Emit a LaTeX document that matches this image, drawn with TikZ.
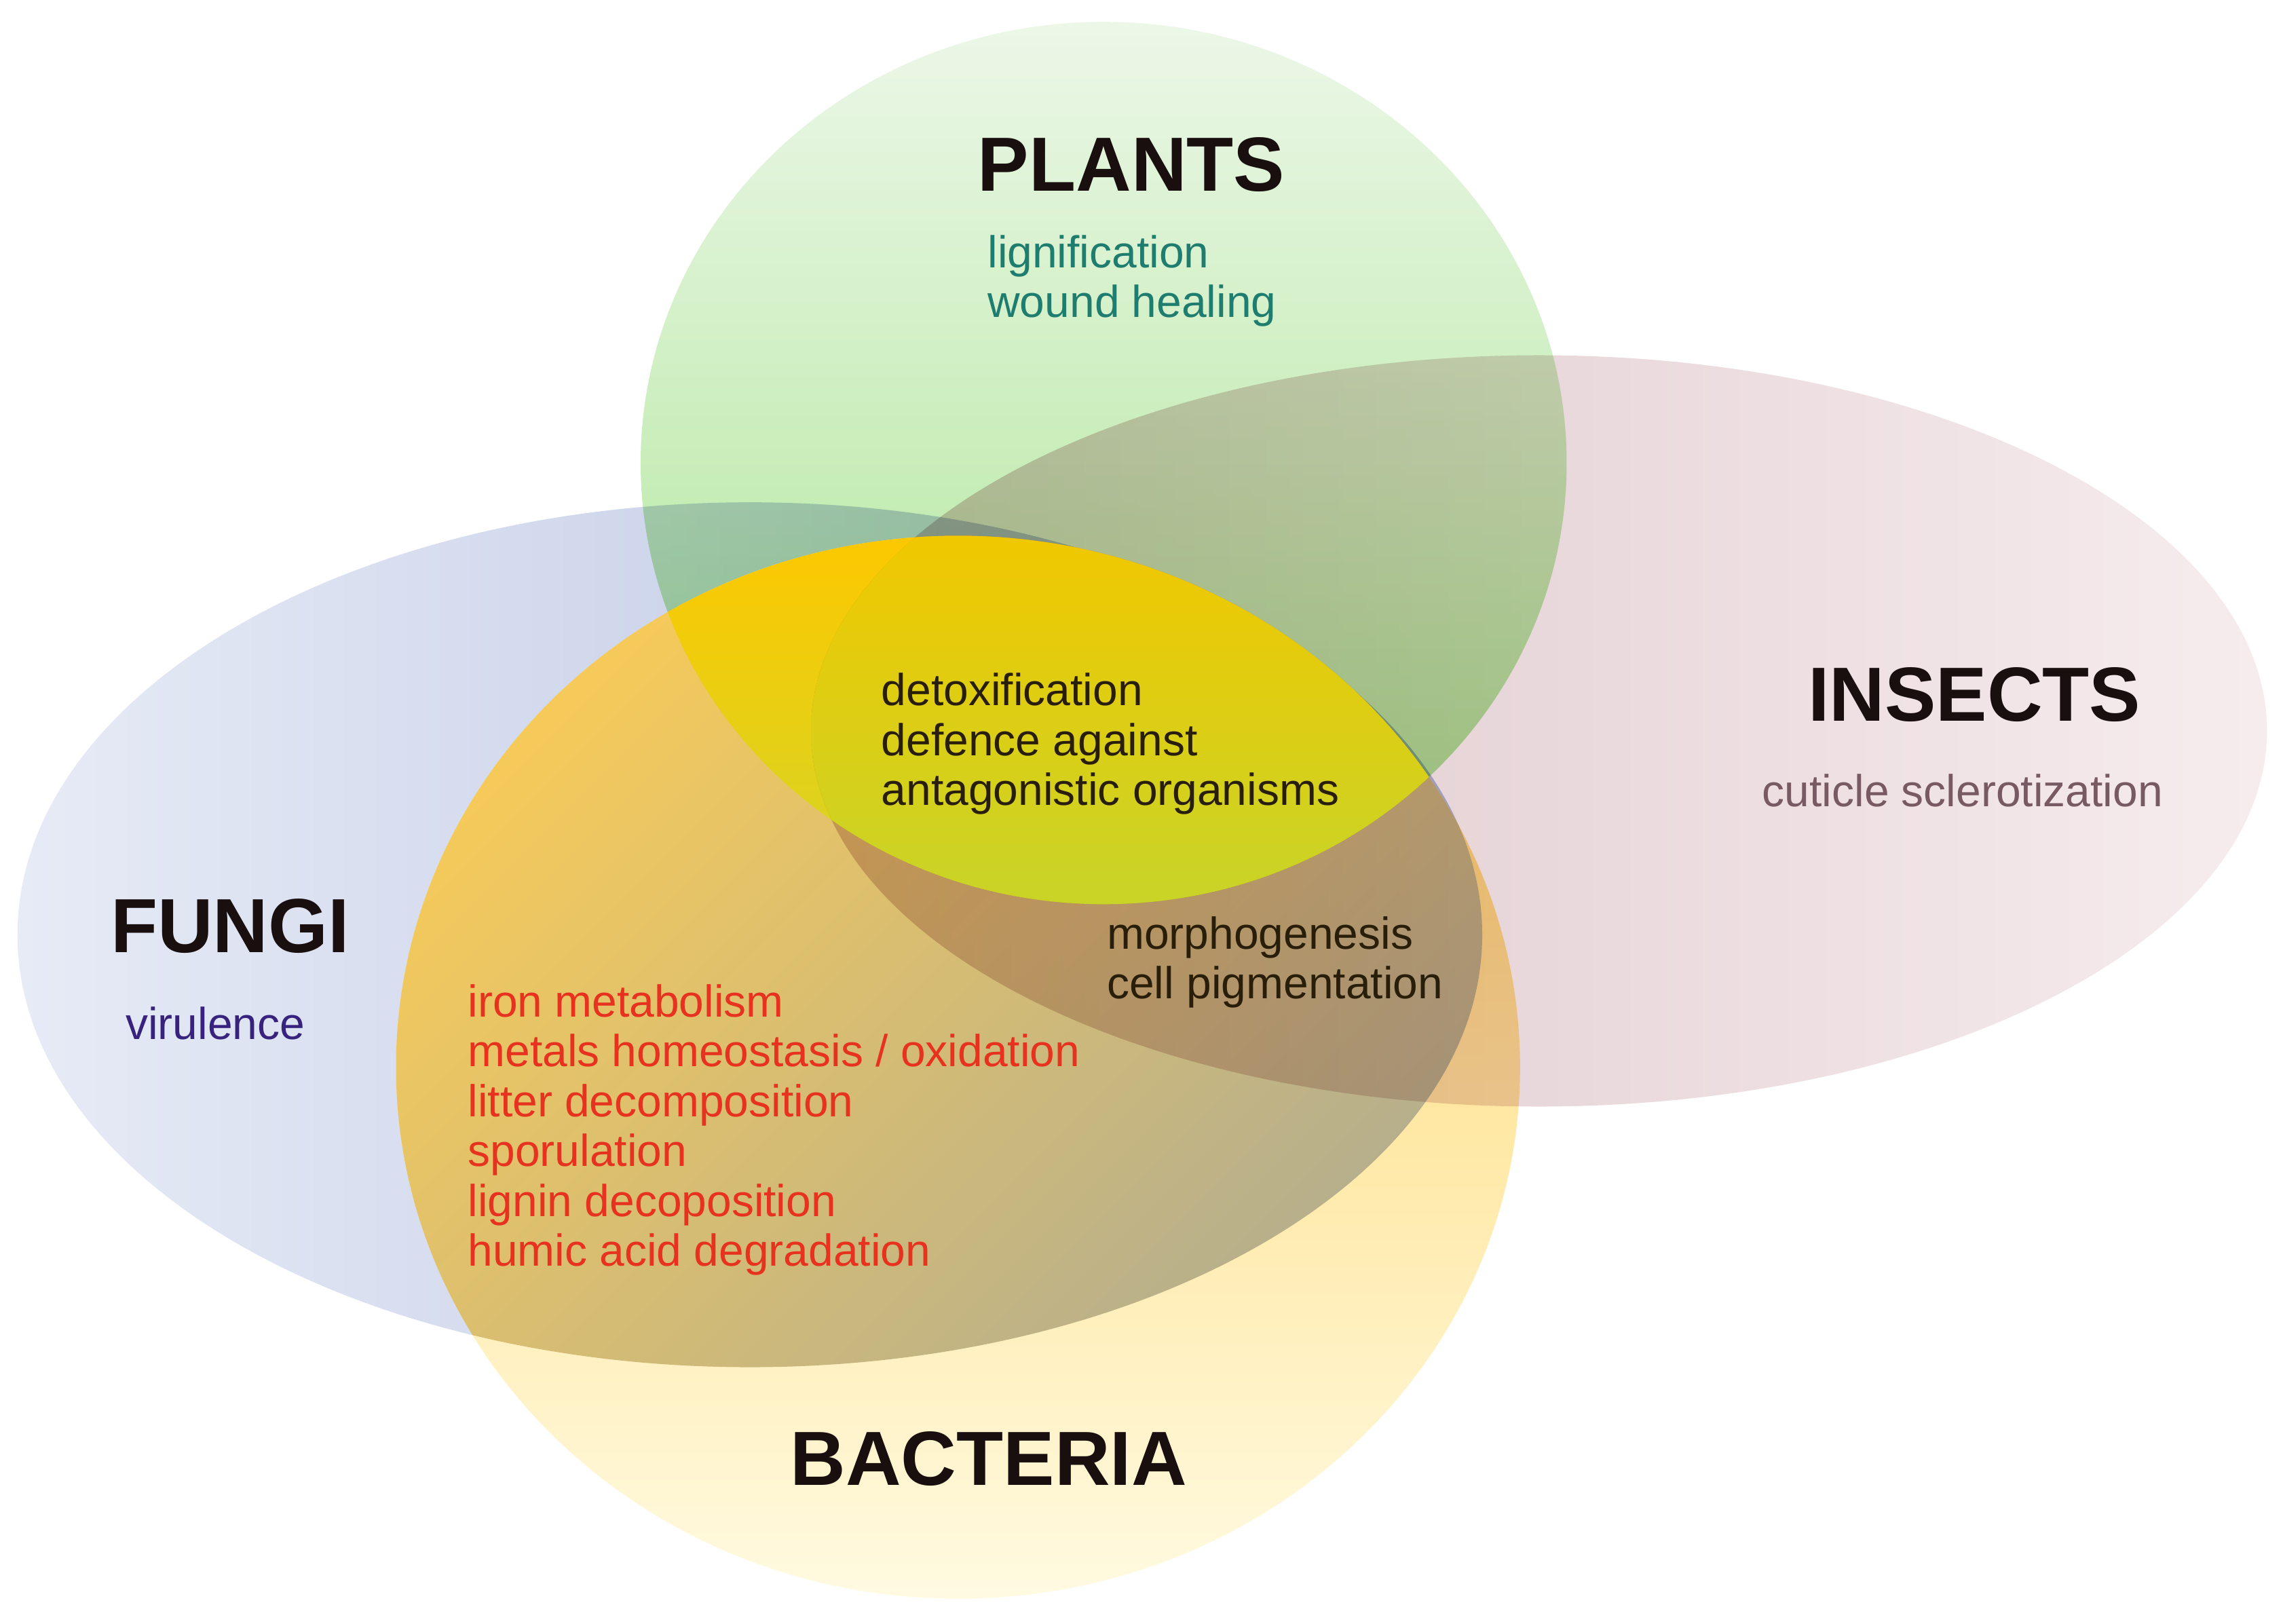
\documentclass[tikz,border=0pt]{standalone}
\usepackage{fontspec}
\setmainfont{Liberation Sans}
\usepackage{tikz}

\definecolor{fungiL}{RGB}{231,235,246}
\definecolor{fungiM}{RGB}{188,199,228}
\definecolor{fungiR}{RGB}{176,188,222}
\definecolor{plantsT}{RGB}{236,247,232}
\definecolor{plantsM}{RGB}{205,238,190}
\definecolor{plantsB}{RGB}{165,228,140}
\definecolor{insectsL}{RGB}{220,196,200}
\definecolor{insectsR}{RGB}{246,236,238}
\definecolor{bactT}{RGB}{255,210,90}
\definecolor{bactM}{RGB}{255,233,155}
\definecolor{bactB}{RGB}{255,250,225}
\definecolor{goldT}{RGB}{246,202,90}
\definecolor{goldM}{RGB}{215,197,132}
\definecolor{goldB}{RGB}{170,170,150}
\definecolor{lensT}{RGB}{252,200,0}
\definecolor{lensB}{RGB}{212,214,40}
\definecolor{limeT}{RGB}{240,200,0}
\definecolor{limeB}{RGB}{200,212,40}
\definecolor{headtext}{RGB}{25,15,15}
\definecolor{planttext}{RGB}{30,125,110}
\definecolor{insecttext}{RGB}{120,90,100}
\definecolor{fungitext}{RGB}{55,35,125}
\definecolor{sharedtext}{RGB}{40,30,10}
\definecolor{soiltext}{RGB}{230,50,30}

\def\plantsshape{(758,318) ellipse [x radius=318, y radius=303]}
\def\insectsshape{(1057,502) ellipse [x radius=500, y radius=258]}
\def\fungishape{(515,642) ellipse [x radius=503, y radius=297]}
\def\bactshape{(658,733) ellipse [x radius=386, y radius=365]}

\begin{document}
\begin{tikzpicture}[x=0.02cm, y=-0.02cm,
        head/.style={font=\fontsize{30}{36}\selectfont\bfseries, text=headtext, inner sep=0pt},
        note/.style={font=\fontsize{17.5}{19.5}\selectfont, align=left, anchor=west, inner sep=0pt}]
    \useasboundingbox (0,0) rectangle (1568,1115);

    % the four groups and their overlaps
    \shade[left color=fungiL, middle color=fungiM, right color=fungiR] \fungishape;
    \begin{scope}[blend mode=multiply]
        \shade[top color=plantsT, middle color=plantsM, bottom color=plantsB] \plantsshape;
    \end{scope}
    \shade[top color=bactT, middle color=bactM, bottom color=bactB] \bactshape;
    \begin{scope}
        \clip \fungishape;
        \shade[top color=goldT, middle color=goldM, bottom color=goldB, shading angle=45] \bactshape;
    \end{scope}
    \begin{scope}
        \clip \plantsshape;
        \clip \bactshape;
        \shade[top color=lensT, bottom color=lensB] (440,368) rectangle (1077,621);
    \end{scope}
    \begin{scope}[blend mode=multiply]
        \shade[left color=insectsL, right color=insectsR] \insectsshape;
    \end{scope}
    \begin{scope}
        \clip \plantsshape;
        \clip \bactshape;
        \clip \insectsshape;
        \shade[top color=limeT, bottom color=limeB] (440,368) rectangle (1077,621);
    \end{scope}

    % labels
    \node[head] (plants) at (777,113) {PLANTS};
    \node[note, text=planttext] (plantroles) at (678,193) {lignification\\wound healing};
    \node[head] (insects) at (1356,477) {INSECTS};
    \node[note, text=insecttext] (insectroles) at (1210,543) {cuticle sclerotization};
    \node[head] (fungi) at (158,636) {FUNGI};
    \node[note, text=fungitext] (fungiroles) at (86,703) {virulence};
    \node[head] (bacteria) at (679,1002) {BACTERIA};
    \node[note, text=sharedtext] (core) at (605,511) {detoxification\\defence against\\antagonistic organisms};
    \node[note, text=sharedtext] (pigment) at (760,661) {morphogenesis\\cell pigmentation};
    \node[note, text=soiltext] (soil) at (321,776) {iron metabolism\\metals homeostasis / oxidation\\litter decomposition\\sporulation\\lignin decoposition\\humic acid degradation};
\end{tikzpicture}
\end{document}
